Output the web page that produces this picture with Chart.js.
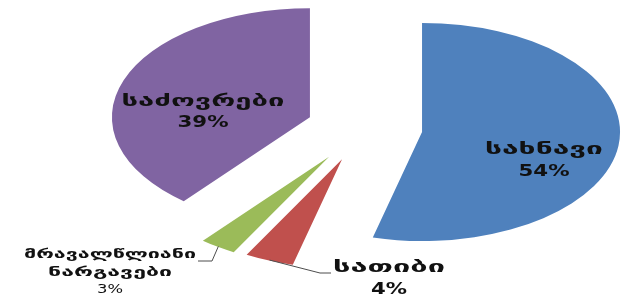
<!DOCTYPE html>
<html><head><meta charset="utf-8">
<script src="https://cdn.jsdelivr.net/npm/chart.js@4"></script>
<style>html,body{margin:0;padding:0;background:#fff;overflow:hidden}#wrap{width:629px;height:297px;position:relative}</style>
</head><body><div id="wrap"><canvas id="c" width="629" height="297"></canvas></div>
<script>
// ---- data ----
const categories = ['სახნავი', 'სათიბი', 'მრავალწლიანი ნარგავები', 'საძოვრები'];
const values = [54, 4, 3, 39];
const percentLabels = values.map(v => v + '%');

// ---- styles ----
const sliceColors = ['#4F81BD', '#C0504D', '#9BBB59', '#8064A2'];
const explode = [58, 61, 63, 58];
const SQUASH = 109 / 198;
const FONT = '"DejaVu Sans", "Noto Sans", sans-serif';

// label layout (positions/sizes only)
const labelLayout = [
  { x: 544, lines: [{ y: 150, w: 118, f: 'bold 16px ' }, { y: 172, w: 51, f: 'bold 16px ' }] },
  { x: 389, lines: [{ y: 268, w: 112, f: 'bold 16px ' }, { y: 290, w: 36, f: 'bold 16px ' }], leader: [[320, 273], [331, 273]] },
  { x: 110, lines: [{ y: 255, w: 172, f: 'bold 13px ' }, { y: 273, w: 124, f: 'bold 13px ' }, { y: 290, w: 26, f: '12px ' }], leader: [[212, 261], [198, 261]] },
  { x: 203, lines: [{ y: 102, w: 163, f: 'bold 16px ' }, { y: 123, w: 51, f: 'bold 16px ' }] }
];

// Draws the library's arc elements exploded and squashed into an ellipse
const explodedPiePlugin = {
  id: 'explodedPie',
  beforeDatasetDraw(chart, args) {
    const ctx = chart.ctx, a = chart.chartArea;
    const cx = (a.left + a.right) / 2, cy = (a.top + a.bottom) / 2;
    ctx.save();
    ctx.translate(cx, cy); ctx.scale(1, SQUASH); ctx.translate(-cx, -cy);
    args.meta.data.forEach((el, i) => {
      const mid = (el.startAngle + el.endAngle) / 2;
      ctx.save();
      ctx.translate(Math.cos(mid) * explode[i], Math.sin(mid) * explode[i]);
      el.draw(ctx);
      ctx.restore();
    });
    ctx.restore();
    return false;
  }
};

const labelPlugin = {
  id: 'labels',
  afterDraw(chart) {
    const ctx = chart.ctx;
    const meta = chart.getDatasetMeta(0);
    ctx.save();
    meta.data.forEach((el, i) => {
      const L = labelLayout[i];
      const p = el.getProps(['x', 'y', 'startAngle', 'endAngle', 'outerRadius'], true);
      if (L.leader) {
        const mid = (p.startAngle + p.endAngle) / 2;
        const r = p.outerRadius + explode[i] - 1;
        const sx = p.x + Math.cos(mid) * r;
        const sy = p.y + Math.sin(mid) * r * SQUASH;
        ctx.beginPath();
        ctx.strokeStyle = '#4d4d4d';
        ctx.lineWidth = 1;
        ctx.moveTo(sx, sy);
        L.leader.forEach(pt => ctx.lineTo(pt[0], pt[1]));
        ctx.stroke();
      }
      const texts = categories[i].split(' ').concat([percentLabels[i]]);
      texts.forEach((t, j) => {
        const ln = L.lines[j];
        ctx.font = ln.f + FONT;
        ctx.fillStyle = '#111111';
        ctx.textAlign = 'center';
        ctx.textBaseline = 'middle';
        const mw = ctx.measureText(t).width;
        const s = ln.w / mw;
        ctx.save();
        ctx.translate(L.x, ln.y);
        ctx.scale(s, 1);
        ctx.fillText(t, 0, 0);
        ctx.restore();
      });
    });
    ctx.restore();
  }
};

new Chart(document.getElementById('c'), {
  type: 'pie',
  data: {
    labels: categories,
    datasets: [{
      data: values,
      backgroundColor: sliceColors,
      borderWidth: 0,
      offset: 0,
      radius: 198,
      clip: false
    }]
  },
  options: {
    responsive: false,
    animation: false,
    events: [],
    devicePixelRatio: 1,
    layout: { padding: { left: 100, right: 0, top: 0, bottom: 41 } },
    plugins: { legend: { display: false }, tooltip: { enabled: false } }
  },
  plugins: [explodedPiePlugin, labelPlugin]
});
</script>
</body></html>
